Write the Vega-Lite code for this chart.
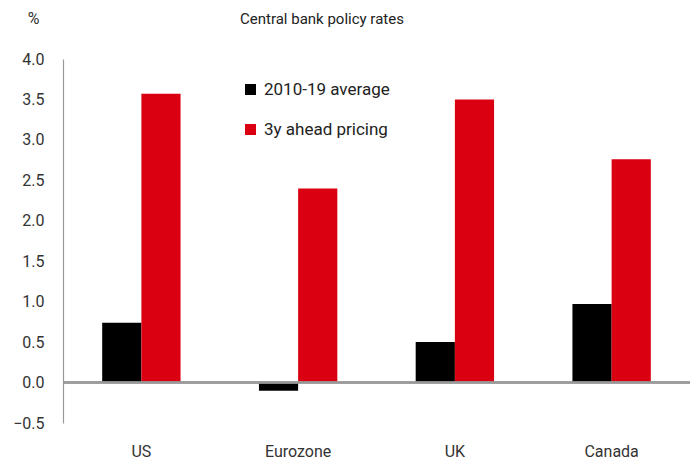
{
  "$schema": "https://vega.github.io/schema/vega-lite/v6.json",
  "width": 627,
  "height": 364,
  "autosize": {"type": "none"},
  "padding": {"left": 63, "top": 59, "right": 3, "bottom": 41},
  "background": "white",
  "config": {
    "font": "Roboto",
    "view": {"stroke": null},
    "axis": {"labelFont": "Roboto", "labelFontSize": 16, "labelColor": "#333333", "grid": false, "ticks": false}
  },
  "title": {
    "text": "Central bank policy rates",
    "anchor": "start",
    "frame": "group",
    "dx": 177,
    "offset": 0,
    "dy": 17,
    "fontSize": 15,
    "fontWeight": "normal",
    "font": "Roboto",
    "color": "#222222"
  },
  "data": {
    "values": [
      {"country": "US", "series": "2010-19 average", "value": 0.74},
      {"country": "US", "series": "3y ahead pricing", "value": 3.57},
      {"country": "Eurozone", "series": "2010-19 average", "value": -0.1},
      {"country": "Eurozone", "series": "3y ahead pricing", "value": 2.4},
      {"country": "UK", "series": "2010-19 average", "value": 0.5},
      {"country": "UK", "series": "3y ahead pricing", "value": 3.5},
      {"country": "Canada", "series": "2010-19 average", "value": 0.97},
      {"country": "Canada", "series": "3y ahead pricing", "value": 2.76}
    ]
  },
  "layer": [
    {
      "mark": {"type": "bar"},
      "encoding": {
        "x": {
          "field": "country",
          "type": "nominal",
          "sort": ["US", "Eurozone", "UK", "Canada"],
          "scale": {"paddingInner": 0.5, "paddingOuter": 0.25},
          "axis": {"title": null, "labelAngle": 0, "domain": false, "labelPadding": 28, "labelBaseline": "middle"}
        },
        "xOffset": {"field": "series", "type": "nominal", "sort": ["2010-19 average", "3y ahead pricing"], "scale": {"paddingInner": 0, "paddingOuter": 0}},
        "y": {
          "field": "value",
          "type": "quantitative",
          "scale": {"domain": [-0.5, 4], "nice": false, "zero": false},
          "axis": {
            "values": [-0.5, 0, 0.5, 1, 1.5, 2, 2.5, 3, 3.5, 4],
            "format": ".1f",
            "domainColor": "#999999",
            "domainWidth": 1.2,
            "labelPadding": 19,
            "title": "%",
            "titleAngle": 0,
            "titleX": -30,
            "titleY": -41,
            "titleAlign": "center",
            "titleBaseline": "middle",
            "titleFont": "Roboto",
            "titleFontSize": 16,
            "titleFontWeight": "normal",
            "titleColor": "#333333"
          }
        },
        "color": {
          "field": "series",
          "type": "nominal",
          "sort": ["2010-19 average", "3y ahead pricing"],
          "scale": {"domain": ["2010-19 average", "3y ahead pricing"], "range": ["#000000", "#DB0011"]},
          "legend": {
            "title": null,
            "orient": "none",
            "legendX": 179,
            "legendY": 22,
            "symbolType": "square",
            "symbolSize": 121,
            "symbolStrokeWidth": 0,
            "labelFontSize": 17,
            "labelFont": "Roboto",
            "labelColor": "#222222",
            "labelOffset": 5,
            "rowPadding": 22
          }
        }
      }
    },
    {
      "mark": {"type": "rule", "color": "#999999", "strokeWidth": 1.5},
      "encoding": {"y": {"datum": 0}}
    }
  ]
}
